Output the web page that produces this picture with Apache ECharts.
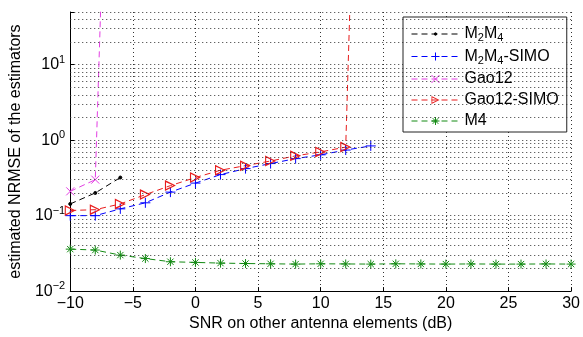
<!DOCTYPE html>
<html>
<head>
<meta charset="utf-8">
<script src="https://cdn.jsdelivr.net/npm/echarts@6/dist/echarts.min.js"></script>
<style>html,body{margin:0;padding:0;background:#fff}#c{width:583px;height:337px}</style>
</head>
<body>
<div id="c"></div>
<script>
// ---- data ----
const xM2M4 = [-10, -8, -6];
const yM2M4 = [0.143, 0.20, 0.32];

const xM2M4SIMO = [-10, -8, -6, -4, -2, 0, 2, 4, 6, 8, 10, 12, 14];
const yM2M4SIMO = [0.10, 0.10, 0.123, 0.148, 0.205, 0.27, 0.35, 0.42, 0.49, 0.57, 0.64, 0.74, 0.84];

const xGao12 = [-10, -8, -6];
const yGao12 = [0.21, 0.30, 1e10];

const xGao12SIMO = [-10, -8, -6, -4, -2, 0, 2, 4, 6, 8, 10, 12, 14];
const yGao12SIMO = [0.117, 0.12, 0.143, 0.19, 0.25, 0.32, 0.40, 0.46, 0.53, 0.62, 0.70, 0.81, 1e11];

const xM4 = [-10, -8, -6, -4, -2, 0, 2, 4, 6, 8, 10, 12, 14, 16, 18, 20, 22, 24, 26, 28, 30];
const yM4 = [0.036, 0.035, 0.030, 0.027, 0.0245, 0.024, 0.0235, 0.0232, 0.023, 0.0228, 0.023, 0.0229, 0.0228, 0.023,
             0.0229, 0.0228, 0.0229, 0.0228, 0.0228, 0.0229, 0.0228];

const seriesNames = ['M2M4', 'M2M4-SIMO', 'Gao12', 'Gao12-SIMO', 'M4'];
const legendLabels = ['M{sub|2}M{sub|4}', 'M{sub|2}M{sub|4}-SIMO', 'Gao12', 'Gao12-SIMO', 'M4'];
const colors = ['#000000', '#0000ff', '#e23ee2', '#e81c1c', '#138a13'];

const xTicks = { min: -10, max: 30, interval: 5 };
const yRange = { min: 0.01, max: 50 };
const decades = [-2, -1, 0, 1];
const minorMult = [2, 3, 4, 5, 6, 7, 8, 9];

// ---- build ----
const zip = (xs, ys) => xs.map((x, i) => [x, ys[i]]);
const minorVals = [];
decades.forEach(d => minorMult.forEach(m => { const v = m * Math.pow(10, d); if (v < yRange.max) minorVals.push(v); }));
const minus = s => String(s).replace('-', '\u2212');

const SYM_DOT = 'path://M0,0M10,10M3.5,5a1.5,1.5 0 1,0 3,0a1.5,1.5 0 1,0 -3,0Z';
const SYM_PLUS = 'path://M5,0L5,10M0,5L10,5';
const SYM_X = 'path://M0,0L10,10M0,10L10,0';
// hollow right-pointing triangle (outer ring with a reversed inner hole)
const SYM_TRI = 'path://M0,0L10,5L0,10ZM1,1.9L1,8.1L7.7,5Z';
const SYM_STAR = 'path://M5,0L5,10M0,5L10,5M1.5,1.5L8.5,8.5M1.5,8.5L8.5,1.5';

const dash = [6, 4];
const symbols = [SYM_DOT, SYM_PLUS, SYM_X, SYM_TRI, SYM_STAR];
const sizes = [10, 10, 8, 11, 9];
const borders = [1, 1, 1, 0, 1];
const itemStyleOf = i => ({ color: colors[i], borderColor: colors[i], borderWidth: borders[i] });

function mk(i, data) {
  return {
    name: seriesNames[i], type: 'line', data: data, clip: true,
    symbol: symbols[i], symbolSize: sizes[i], showSymbol: true,
    lineStyle: { color: colors[i], width: 1, type: dash },
    itemStyle: itemStyleOf(i),
    emphasis: { disabled: true }, animation: false, z: 3
  };
}

const chart = echarts.init(document.getElementById('c'), null, { renderer: 'canvas' });
const dotted = { color: '#333', width: 1, type: [1, 3] };
chart.setOption({
  animation: false,
  backgroundColor: '#fff',
  textStyle: { fontFamily: 'Liberation Sans, Arial, sans-serif' },
  grid: { left: 63, right: 11, top: 12, bottom: 41, containLabel: false },
  xAxis: {
    type: 'value', min: xTicks.min, max: xTicks.max, interval: xTicks.interval,
    name: 'SNR on other antenna elements (dB)', nameLocation: 'middle', nameGap: 23,
    nameTextStyle: { fontSize: 16, color: '#000' },
    axisLine: { show: true, onZero: false, lineStyle: { color: '#000', width: 1 } },
    axisTick: { show: true, inside: true, length: 4, lineStyle: { color: '#000' } },
    axisLabel: { fontSize: 16, color: '#000', margin: 4, formatter: v => minus(v) },
    splitLine: { show: true, lineStyle: dotted }
  },
  yAxis: {
    type: 'log', min: yRange.min, max: yRange.max, logBase: 10,
    name: 'estimated NRMSE of the estimators', nameLocation: 'middle', nameGap: 40,
    nameTextStyle: { fontSize: 16, color: '#000' },
    axisLine: { show: true, onZero: false, lineStyle: { color: '#000', width: 1 } },
    axisTick: { show: true, inside: true, length: 4, lineStyle: { color: '#000' } },
    axisLabel: {
      color: '#000', margin: 5,
      formatter: function (v) {
        const e = Math.log10(v);
        if (Math.abs(e - Math.round(e)) > 1e-6) return '';
        return '{b|10}{sup|' + minus(Math.round(e)) + '}';
      },
      rich: { b: { fontSize: 16, color: '#000' }, sup: { fontSize: 11, color: '#000', padding: [0, 0, 10, 0] } }
    },
    splitLine: { show: true, lineStyle: dotted }
  },
  legend: {
    data: seriesNames.map((n, i) => ({
      name: n,
      itemStyle: itemStyleOf(i),
      lineStyle: { color: colors[i], width: 1, type: dash }
    })),
    orient: 'vertical', left: 403, top: 17,
    backgroundColor: '#fff', borderColor: '#222', borderWidth: 1,
    padding: [9, 8, 3, 8], itemGap: 5, itemWidth: 48, itemHeight: 10,
    formatter: function (n) { return legendLabels[seriesNames.indexOf(n)]; },
    textStyle: { fontSize: 16, color: '#000', rich: { sub: { fontSize: 11, padding: [8, 0, 0, 0] } } },
    selectedMode: false
  },
  series: [
    {
      name: '_grid', type: 'line', data: [], silent: true, z: 1,
      markLine: {
        silent: true, symbol: 'none', label: { show: false }, animation: false,
        lineStyle: dotted,
        data: minorVals.map(v => ({ yAxis: v }))
      }
    },
    mk(0, zip(xM2M4, yM2M4)),
    mk(1, zip(xM2M4SIMO, yM2M4SIMO)),
    mk(2, zip(xGao12, yGao12)),
    mk(3, zip(xGao12SIMO, yGao12SIMO)),
    mk(4, zip(xM4, yM4))
  ]
});
</script>
</body>
</html>
